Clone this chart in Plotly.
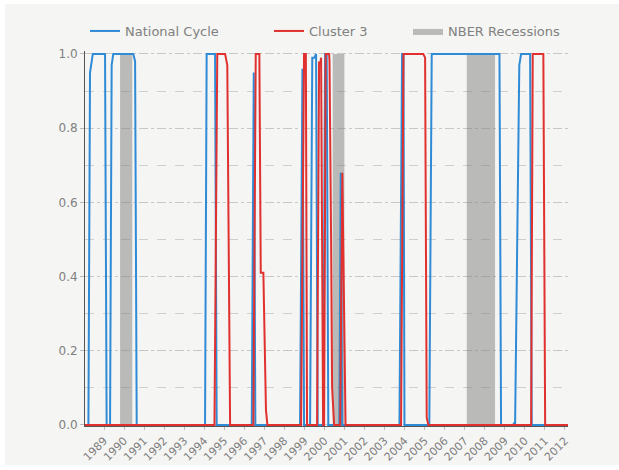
import plotly.graph_objects as go

# Time positions (decimal years on the chart's axis) and regime probabilities
national_x = [1988.05, 1988.22, 1988.30, 1988.44, 1989.05, 1989.13, 1989.30, 1989.38, 1989.46, 1990.46,
              1990.55, 1990.63, 1994.04, 1994.12, 1994.54, 1994.62, 1996.37, 1996.47, 1996.55, 1998.78,
              1998.90, 1998.98, 1999.28, 1999.39, 1999.50, 1999.58, 1999.66, 1999.94, 2000.03, 2000.11,
              2000.19, 2000.74, 2000.81, 2000.88, 2003.74, 2003.87, 2003.94, 2003.99, 2005.23, 2005.35,
              2008.73, 2008.81, 2009.41, 2009.47, 2009.51, 2009.72, 2009.81, 2010.26, 2010.34, 2012.15]
national_y = [0, 0, 0.95, 1, 1, 0, 0, 0.97, 1, 1,
              0.98, 0, 0, 1, 1, 0, 0, 0.95, 0, 0,
              0.96, 0, 0, 0.99, 0.99, 1, 0, 0, 1, 1,
              0, 0, 0.68, 0, 0, 1, 1, 0, 0, 1,
              1, 0, 0, 0.006, 0, 0.97, 1, 1, 0, 0]

cluster3_x = [1988.05, 1994.51, 1994.65, 1995.04, 1995.15, 1995.29, 1996.45, 1996.57, 1996.75, 1996.82,
              1996.95, 1997.08, 1997.15, 1998.83, 1998.98, 1999.07, 1999.13, 1999.63, 1999.73, 1999.78,
              1999.83, 1999.93, 1999.98, 2000.06, 2000.23, 2000.25, 2000.33, 2000.38, 2000.48, 2000.78,
              2000.89, 2000.95, 2001.05, 2003.82, 2003.94, 2004.93, 2005.02, 2005.10, 2005.18, 2010.31,
              2010.39, 2010.92, 2011.01, 2012.15]
cluster3_y = [0, 0, 1, 1, 0.97, 0, 0, 1, 1, 0.41,
              0.41, 0.04, 0, 0, 1, 1, 0, 0, 0.98, 0.97,
              0.99, 0, 0, 1, 1, 0.98, 0.5, 0.1, 0, 0,
              0.68, 0.4, 0, 0, 1, 1, 0.99, 0.02, 0, 0,
              1, 1, 0, 0]

recession_start = [1989.80, 2000.41, 2007.10]
recession_end = [1990.41, 2000.99, 2008.51]

tick_years = list(range(1989, 2013))
tick_labels = [str(y) for y in tick_years]
y_ticks = [0.0, 0.2, 0.4, 0.6, 0.8, 1.0]

BLUE = "#2f8bd6"
RED = "#e0312f"
TXT = "#808080"
BG = "#f5f5f3"

# recession polygons built from the start/end lists
rx, ry = [], []
for s, e in zip(recession_start, recession_end):
    rx += [s, s, e, e, s, None]
    ry += [0, 1, 1, 0, 0, None]

fig = go.Figure()
fig.add_trace(go.Scatter(x=rx, y=ry, fill="toself", mode="lines", line=dict(width=0),
                         fillcolor="rgba(128,128,128,0.5)", name="NBER Recessions",
                         legend="legend3", hoverinfo="skip"))
fig.add_trace(go.Scatter(x=national_x, y=national_y, mode="lines", name="National Cycle",
                         line=dict(color=BLUE, width=2), legend="legend"))
fig.add_trace(go.Scatter(x=cluster3_x, y=cluster3_y, mode="lines", name="Cluster 3",
                         line=dict(color=RED, width=2), legend="legend2"))

L, R, T, B = 85, 568, 51, 426
W, H = 619, 470
pw, ph = R - L, B - T

def px2paper_x(p):
    return (p - L) / pw

def px2paper_y(p):
    return (B - p) / ph

fig.add_shape(type="rect", xref="paper", yref="paper",
              x0=px2paper_x(5), x1=px2paper_x(619), y0=px2paper_y(465), y1=px2paper_y(4),
              fillcolor=BG, line=dict(width=0), layer="below")

legend_common = dict(orientation="h", yanchor="middle", y=px2paper_y(31), xanchor="left",
                     font=dict(family="DejaVu Sans", size=13, color=TXT),
                     bgcolor="rgba(0,0,0,0)", itemwidth=30, borderwidth=0)

fig.update_layout(
    width=W, height=H,
    margin=dict(l=L, r=W - R, t=T, b=H - B, autoexpand=False),
    paper_bgcolor="white",
    plot_bgcolor=BG,
    font=dict(family="DejaVu Sans", color=TXT),
    showlegend=True,
    legend=dict(x=px2paper_x(85), **legend_common),
    legend2=dict(x=px2paper_x(269), **legend_common),
    legend3=dict(x=px2paper_x(408), **legend_common),
    xaxis=dict(range=[1988.05, 2012.15], tickvals=tick_years, ticktext=tick_labels,
               tickangle=-45, tickfont=dict(size=11, color=TXT), showgrid=False,
               zeroline=False, showline=True, linecolor="#555555", linewidth=1,
               ticks="outside", ticklen=3, tickcolor="#bbbbbb", automargin=False),
    yaxis=dict(range=[-0.003, 1.008], tickvals=y_ticks, tickformat=".1f",
               tickfont=dict(size=12, color=TXT), showgrid=True, gridcolor="#c8c8c8",
               gridwidth=1, griddash="dashdot", zeroline=False, showline=True,
               linecolor="#555555", linewidth=1, ticks="outside", ticklen=4,
               tickcolor="#bbbbbb", automargin=False,
               minor=dict(tickvals=[0.1, 0.3, 0.5, 0.7, 0.9], showgrid=True,
                          gridcolor="#cfcfcf", griddash="dash", gridwidth=1)),
)

fig.write_html("out.html", config={"displayModeBar": False},
               post_script="document.body.style.margin='0';")
